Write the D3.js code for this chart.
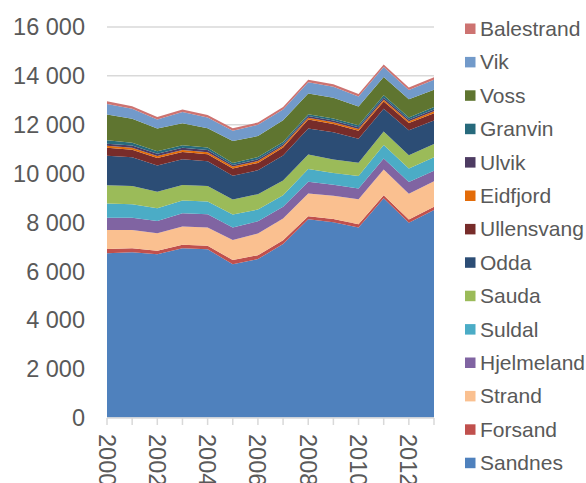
<!DOCTYPE html>
<html><head><meta charset="utf-8">
<script src="https://cdn.jsdelivr.net/npm/d3@7"></script>
<style>
html,body{margin:0;padding:0;background:#fff;}
svg{display:block;font-family:"Liberation Sans",Arial,sans-serif;}
</style></head>
<body><svg id="chart" width="586" height="483"></svg>
<script>
const years = [2000,2001,2002,2003,2004,2005,2006,2007,2008,2009,2010,2011,2012,2013];
const seriesNames = ["Sandnes","Forsand","Strand","Hjelmeland","Suldal","Sauda","Odda","Ullensvang","Eidfjord","Ulvik","Granvin","Voss","Vik","Balestrand"];
const Sandnes    = [6730,6770,6690,6930,6890,6280,6490,7110,8120,8000,7790,8980,7980,8500];
const Forsand    = [170,160,140,150,150,170,160,150,130,130,130,130,130,130];
const Strand     = [780,750,720,750,750,820,890,890,930,960,1020,1050,1060,1050];
const Hjelmeland = [500,500,500,540,540,520,500,480,480,450,440,450,480,430];
const Suldal     = [590,560,520,520,520,530,480,480,520,480,510,560,550,550];
const Sauda      = [750,750,680,640,640,610,630,600,600,550,550,550,550,550];
const Odda       = [1200,1170,1080,1050,1010,980,980,1020,1060,1120,980,930,1020,960];
const Ullensvang = [330,310,300,300,290,290,300,330,370,340,330,300,300,300];
const Eidfjord   = [80,80,80,80,80,80,80,70,70,70,70,70,70,80];
const Ulvik      = [90,90,100,90,90,70,70,70,70,70,70,80,70,70];
const Granvin    = [140,120,100,100,100,80,90,90,70,80,80,100,80,100];
const Voss       = [1050,980,930,910,790,900,860,890,860,850,770,750,750,710];
const Vik        = [440,410,370,460,440,420,460,440,460,450,410,410,380,410];
const Balestrand = [110,100,100,100,100,100,100,100,100,100,100,100,100,100];
const yTicks = [0,2000,4000,6000,8000,10000,12000,14000,16000];
const xLabelYears = [2000,2002,2004,2006,2008,2010,2012];
const colors = ["#4F81BD","#C0504D","#FAC090","#8064A2","#4BACC6","#9BBB59","#2C4D75","#772C2A","#E36C09","#4D3B62","#276A7C","#5F7530","#729ACA","#CD7371"];

const valuesByName = {Sandnes,Forsand,Strand,Hjelmeland,Suldal,Sauda,Odda,Ullensvang,Eidfjord,Ulvik,Granvin,Voss,Vik,Balestrand};
const table = years.map((y,i)=>{const r={year:y}; seriesNames.forEach(n=>r[n]=valuesByName[n][i]); return r;});

const svg = d3.select("#chart");
const x = d3.scaleLinear().domain([2000,2013]).range([107,434]);
const y = d3.scaleLinear().domain([0,16000]).range([417.5,27]);
const color = d3.scaleOrdinal().domain(seriesNames).range(colors);

// gridlines
svg.append("g").selectAll("line").data(yTicks.filter(d=>d>0)).join("line")
  .attr("x1",107).attr("x2",434).attr("y1",d=>y(d)).attr("y2",d=>y(d))
  .attr("stroke","#d9d9d9").attr("stroke-width",1.5);

const stack = d3.stack().keys(seriesNames);
const layers = stack(table);
const area = d3.area().x(d=>x(d.data.year)).y0(d=>y(d[0])).y1(d=>y(d[1]));
svg.append("g").selectAll("path").data(layers).join("path")
  .attr("d",area).attr("fill",d=>color(d.key));

// x axis line and ticks
svg.append("line").attr("x1",107).attr("x2",434).attr("y1",418).attr("y2",418)
  .attr("stroke","#d9d9d9").attr("stroke-width",1.5);
svg.append("g").selectAll("line").data(years).join("line")
  .attr("x1",d=>x(d)).attr("x2",d=>x(d)).attr("y1",418).attr("y2",425)
  .attr("stroke","#d9d9d9").attr("stroke-width",1.5);

// y labels
svg.append("g").selectAll("text").data(yTicks).join("text")
  .attr("x",85).attr("y",d=>y(d)).attr("dy","0.36em")
  .attr("text-anchor","end").attr("font-size",23.5).attr("fill","#595959")
  .text(d=>d3.format(",")(d).replace(/,/g," "));

// x labels
svg.append("g").selectAll("text").data(xLabelYears).join("text")
  .attr("transform",d=>`translate(${x(d)},434) rotate(90)`)
  .attr("dy","0.36em").attr("text-anchor","start")
  .attr("font-size",23.5).attr("fill","#595959").text(d=>d);

// legend
const legendOrder = seriesNames.slice().reverse();
const lg = svg.append("g").selectAll("g").data(legendOrder).join("g")
  .attr("transform",(d,i)=>`translate(465,${28.5+i*33.4})`);
lg.append("rect").attr("x",0).attr("y",-5).attr("width",10.5).attr("height",10.5).attr("fill",d=>color(d));
lg.append("text").attr("x",15).attr("y",0).attr("dy","0.36em")
  .attr("font-size",21).attr("fill","#595959").text(d=>d);
</script></body></html>
